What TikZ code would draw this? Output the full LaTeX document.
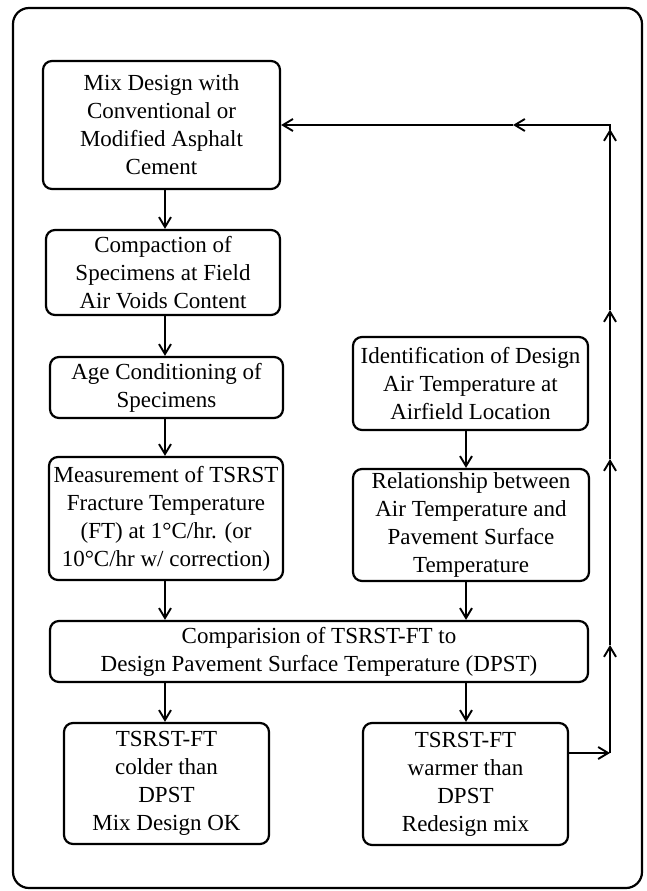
\documentclass[tikz,border=0pt]{standalone}
\usepackage{fontspec}
\setmainfont{Liberation Serif}
\usetikzlibrary{arrows.meta}
\begin{document}
\begin{tikzpicture}[x=1pt,y=-1pt,
  box/.style={draw, line width=2.2pt, rounded corners=9pt, align=center,
    inner sep=0pt, font=\fontsize{23}{28}\selectfont},
  flow/.style={line width=2pt,
    -{Straight Barb[length=10pt,width=12pt,line width=1.9pt]}},
  wire/.style={line width=2pt}]
\useasboundingbox (0,0) rectangle (647,891);
% outer frame
\draw[line width=2.2pt, rounded corners=16pt] (13,8) rectangle (642,888);

% left column
\node[box, minimum width=237pt, minimum height=128pt] (mix) at (161.5,125)
  {Mix Design with\\Conventional or\\Modified Asphalt\\Cement};
\node[box, minimum width=234pt, minimum height=85pt] (comp) at (163,272.5)
  {Compaction of\\Specimens at Field\\Air Voids Content};
\node[box, minimum width=233pt, minimum height=61pt] (age) at (166.5,387.5)
  {Age Conditioning of\\Specimens};
\node[box, minimum width=234pt, minimum height=123pt] (meas) at (166,518.5)
  {Measurement of TSRST\\Fracture Temperature\\(FT) at 1°C/hr. (or\\10°C/hr w/ correction)};

% right column
\node[box, minimum width=235pt, minimum height=93pt] (ident) at (470.5,383.5)
  {Identification of Design\\Air Temperature at\\Airfield Location};
\node[box, minimum width=236pt, minimum height=112pt] (rel) at (471,525)
  {Relationship between\\Air Temperature and\\Pavement Surface\\Temperature};

% comparison and outcomes
\node[box, minimum width=538pt, minimum height=61pt] (cmp) at (319,651.5)
  {Comparision of TSRST-FT to\\Design Pavement Surface Temperature (DPST)};
\node[box, minimum width=205pt, minimum height=121pt] (cold) at (166.5,783.5)
  {TSRST-FT\\colder than\\DPST\\Mix Design OK};
\node[box, minimum width=205pt, minimum height=122pt] (warm) at (465.5,784)
  {TSRST-FT\\warmer than\\DPST\\Redesign mix};

% column guides for the vertical connectors
\coordinate (colL) at (165,0);
\coordinate (colR) at (466,0);

\draw[flow] (colL |- mix.south) -- (colL |- comp.north);
\draw[flow] (colL |- comp.south) -- (colL |- age.north);
\draw[flow] (colL |- age.south) -- (colL |- meas.north);
\draw[flow] (colL |- meas.south) -- (colL |- cmp.north);
\draw[flow] (colR |- ident.south) -- (colR |- rel.north);
\draw[flow] (colR |- rel.south) -- (colR |- cmp.north);
\draw[flow] (colL |- cmp.south) -- (colL |- cold.north);
\draw[flow] (colR |- cmp.south) -- (colR |- warm.north);

% redesign feedback loop
\coordinate (loopB) at (610,753);
\coordinate (up1) at (610,645);
\coordinate (up2) at (610,459);
\coordinate (up3) at (610,310);
\coordinate (up4) at (610,129);
\coordinate (loopT) at (610,125);
\coordinate (back) at (513,125);
\draw[flow] (warm.east |- loopB) -- (loopB);
\draw[flow] (loopB) -- (up1);
\draw[flow] (up1) -- (up2);
\draw[flow] (up2) -- (up3);
\draw[flow] (up3) -- (up4);
\draw[wire, line cap=rect] (up4) -- (loopT);
\draw[flow] (loopT) -- (back);
\draw[flow] (back) -- (mix.east);
\end{tikzpicture}
\end{document}
